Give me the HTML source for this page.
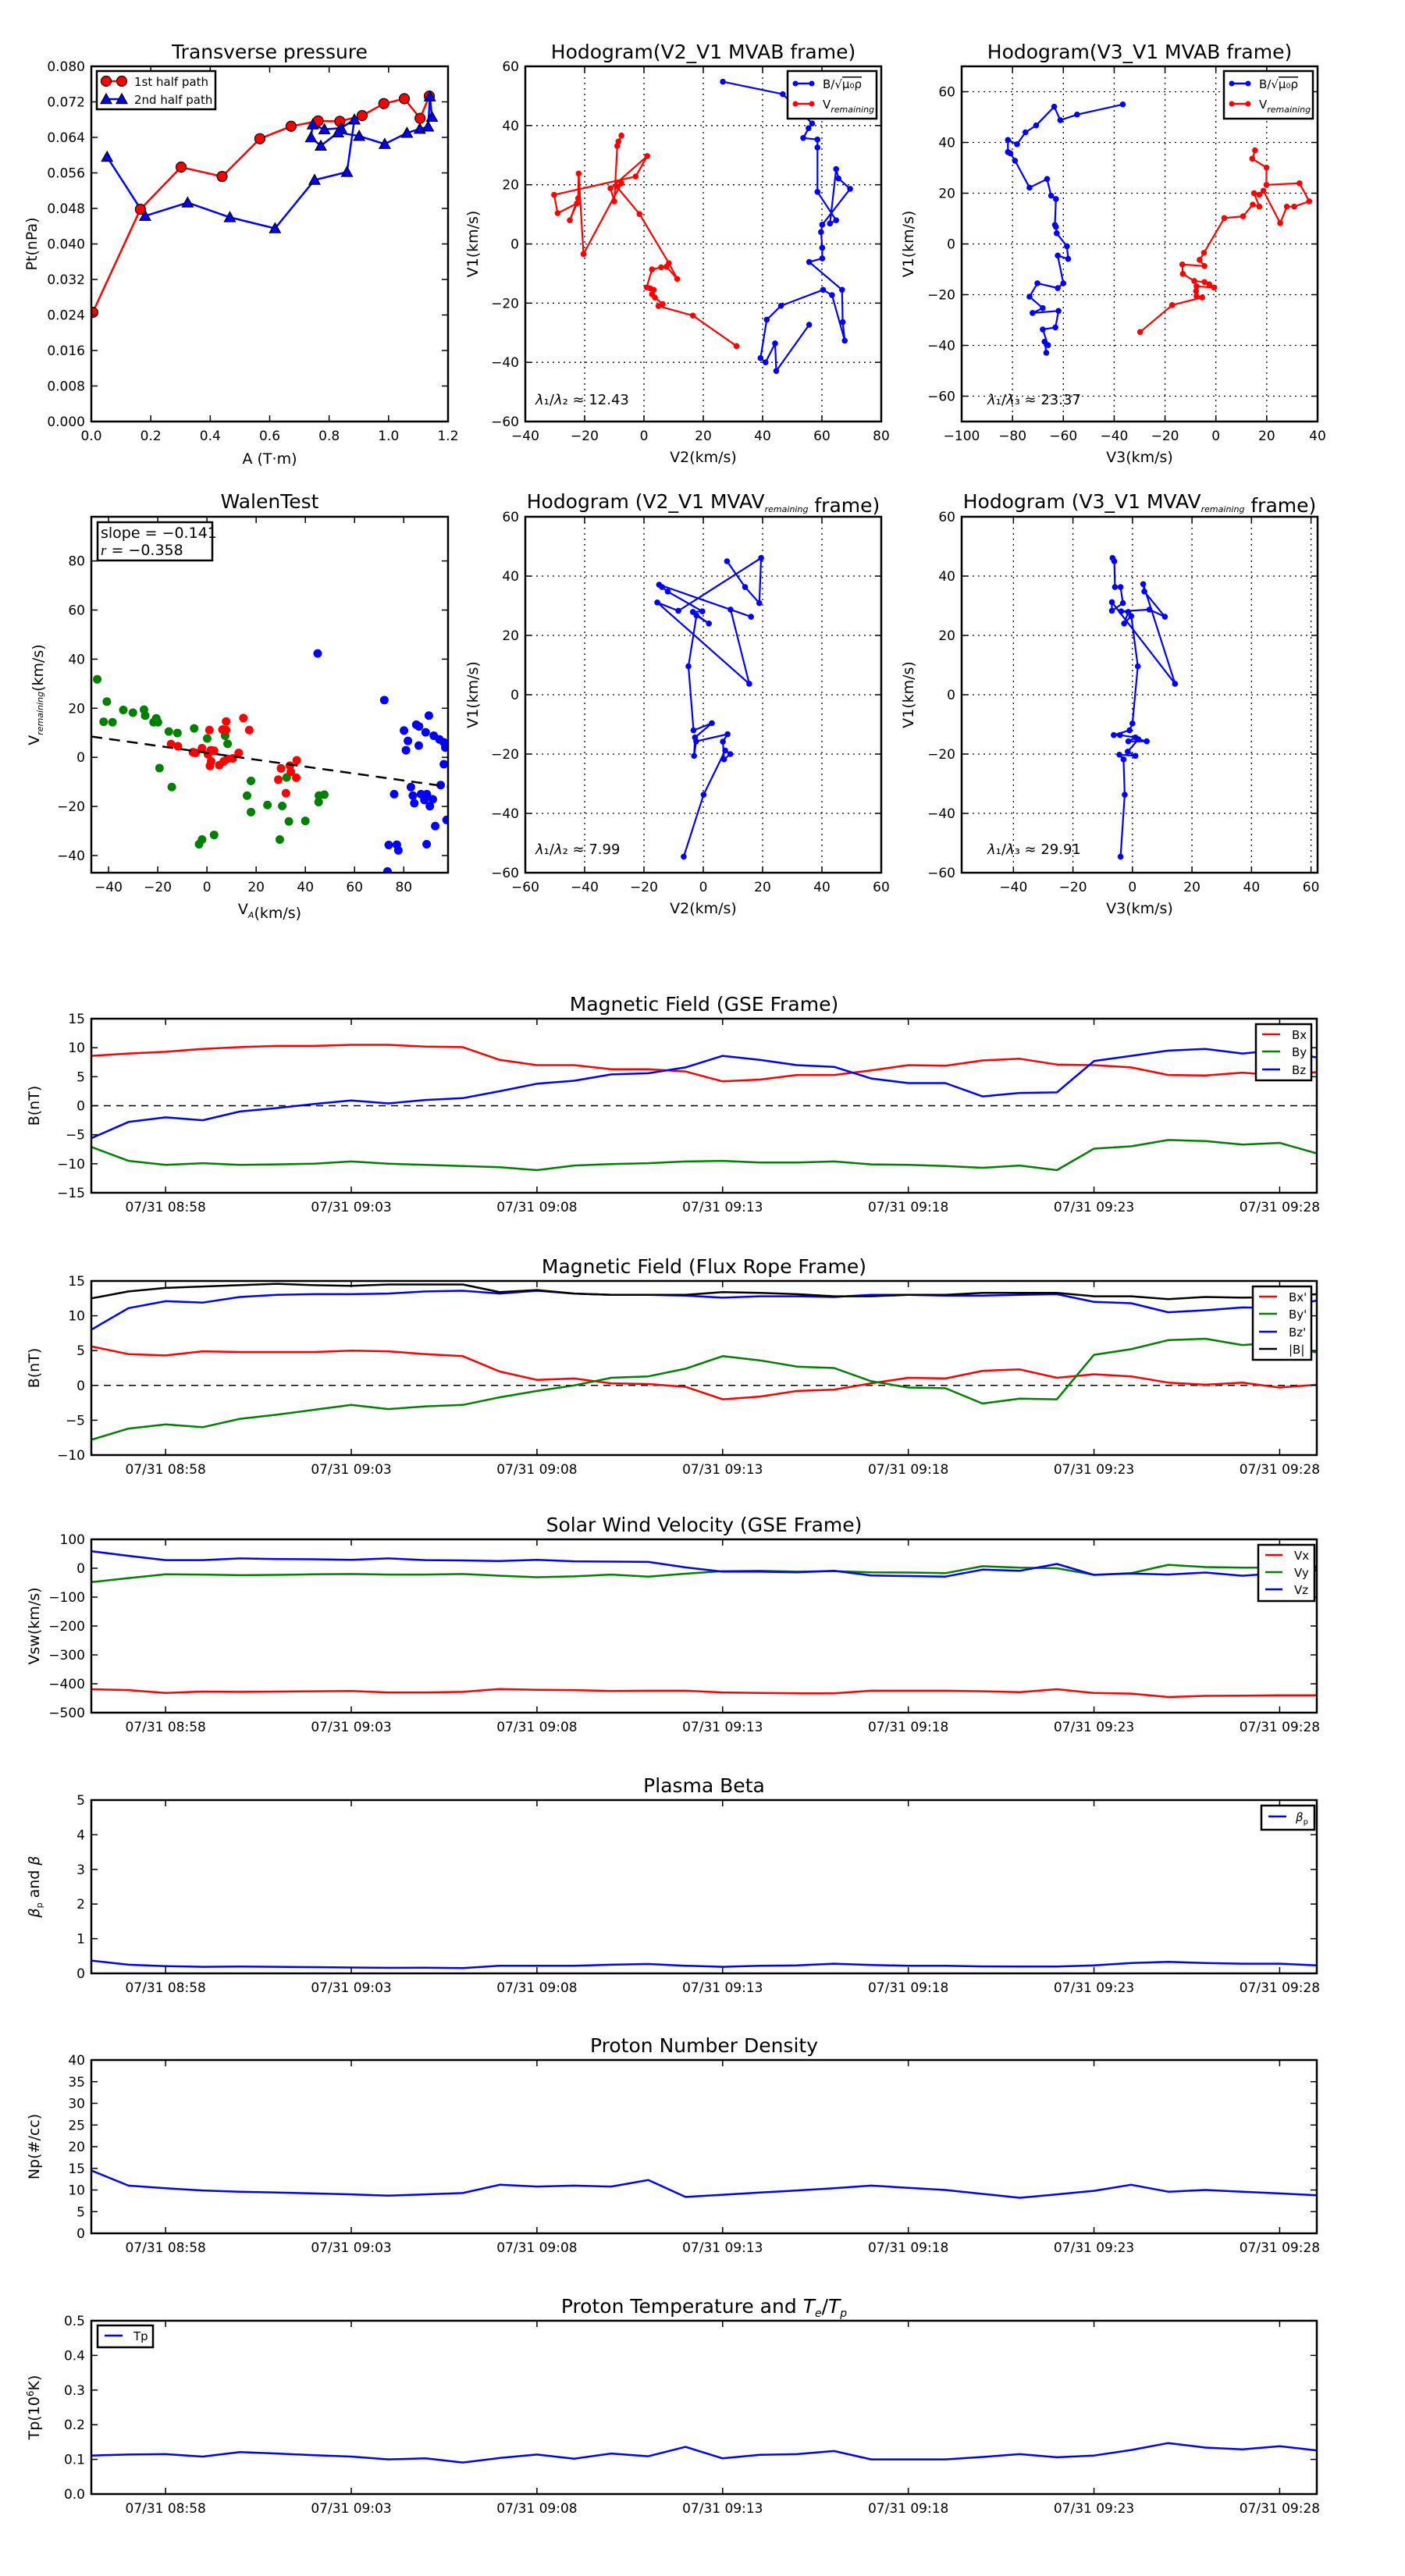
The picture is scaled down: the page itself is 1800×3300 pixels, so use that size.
<!DOCTYPE html>
<html><head><meta charset="utf-8"><title>Flux rope analysis</title>
<style>body{margin:0;background:#fff}svg{display:block}text{font-family:"DejaVu Sans","Liberation Sans",sans-serif;fill:#000}</style>
</head><body>
<svg id="fig" width="1800" height="3300" viewBox="0 0 1800 3300"></svg>
<script>
// ---------- Transverse pressure ----------
const pt1A=[0.005,0.165,0.302,0.44,0.567,0.672,0.763,0.836,0.911,0.984,1.053,1.106,1.137];
const pt1P=[0.0246,0.0478,0.0573,0.0552,0.0637,0.0665,0.0677,0.0676,0.0689,0.0716,0.0727,0.0683,0.0733];
const pt2A=[0.053,0.181,0.324,0.466,0.618,0.751,0.860,0.885,0.840,0.784,0.745,0.739,0.772,0.830,0.901,0.987,1.062,1.105,1.133,1.139,1.146];
const pt2P=[0.0596,0.0463,0.0493,0.0460,0.0435,0.0544,0.0562,0.0680,0.0661,0.0658,0.0669,0.0640,0.0621,0.0651,0.0643,0.0625,0.0650,0.0659,0.0664,0.0732,0.0686];
// ---------- Hodogram V2_V1 MVAB ----------
const h1bV2=[26.6,46.8,56.7,55.5,53.7,58.5,58.5,58.5,64.8,62.7,64.8,65.6,69.5,60.1,59.7,60.1,60.1,55.7,66.8,67.0,67.7,63.4,60.4,46.2,41.4,39.3,41.0,44.2,44.6,55.7];
const h1bV1=[54.8,50.6,40.7,39.1,35.8,35.3,32.6,17.6,8.0,6.9,25.3,22.1,18.6,6.5,4.0,-1.3,-4.9,-6.1,-15.5,-26.4,-32.7,-17.3,-15.5,-20.9,-25.6,-38.6,-40.0,-33.6,-42.9,-27.3];
const h1rV2=[31.2,16.5,4.9,6.3,3.7,2.7,3.3,2.1,0.9,2.7,5.8,7.6,11.2,8.4,-1.5,-9.2,-7.6,-20.4,-22.0,-22.2,-25.0,-22.6,-29.1,-30.3,-2.8,1.1,-11.3,-10.0,-9.0,-8.6,-7.6];
const h1rV1=[-34.5,-24.2,-21.0,-20.3,-18.1,-17.0,-15.5,-15.0,-14.7,-8.6,-7.9,-7.7,-11.8,-6.5,10.1,19.4,20.5,-3.4,23.8,15.4,8.0,13.7,10.4,16.6,22.8,29.7,18.8,14.4,33.1,34.6,36.6];
// ---------- Hodogram V3_V1 MVAB ----------
const h2bV3=[-36.6,-54.6,-61.2,-63.6,-70.7,-74.9,-78.2,-81.8,-81.8,-80.8,-79.0,-73.3,-66.4,-64.8,-62.9,-63.3,-62.9,-62.6,-58.6,-58.1,-62.2,-60.0,-62.2,-70.2,-73.3,-68.1,-72.1,-61.9,-63.1,-68.1,-66.0,-67.4,-66.7];
const h2bV1=[55.0,51.0,48.8,54.1,46.7,44.0,39.3,41.0,36.2,35.7,32.8,22.2,25.6,19.0,17.7,7.5,6.7,4.2,-0.9,-5.9,-4.6,-15.5,-17.4,-15.5,-20.8,-25.3,-27.2,-26.4,-32.9,-33.7,-39.9,-38.5,-42.9];
const h2rV3=[-29.8,-17.2,-5.4,-7.6,-7.8,-7.6,-0.7,-2.6,-4.5,-8.5,-13.0,-13.2,-4.5,-6.4,-4.7,3.3,10.7,14.5,17.1,15.0,17.1,18.7,25.3,27.9,30.8,36.7,32.9,19.9,19.9,14.3,15.4];
const h2rV1=[-34.7,-24.1,-21.1,-20.6,-18.6,-16.7,-17.2,-15.9,-15.0,-14.6,-11.8,-8.1,-8.7,-6.3,-3.5,10.2,10.9,15.5,14.7,20.0,19.4,21.0,8.2,14.7,14.7,16.8,23.9,23.3,30.1,33.6,36.9];
// ---------- Walen test ----------
const wgVA=[-44.6,-40.7,-42,-38.4,-34,-30.1,-25.6,-25.1,-21.7,-20.6,-19.9,-19.3,-15.5,-12,-14.3,-5.2,0.1,7.4,8.4,32.4,17.9,16.3,17.9,24.6,30.6,33.3,40,45.5,47.7,45.4,29.6,2.9,-2,-3.2];
const wgVR=[31.8,22.7,14.5,14.3,19.3,18.2,19.4,17,14.3,15.9,14.3,-4.4,10.5,9.9,-12.1,11.8,7.7,8.8,5.5,-8.2,-9.6,-15.6,-22.3,-19.4,-19.8,-26.1,-25.9,-15.6,-15.2,-18.2,-33.5,-31.6,-33.5,-35.4];
const wrVA=[-14.6,-11.8,-5.7,-4.6,-2,1,7.8,6.3,7.8,14.8,17.2,0.4,1.6,2.9,1.2,1.7,5,6.8,8.3,10.5,12.9,30.1,29,33.7,34.1,36.5,36.3,32.1];
const wrVR=[5.4,4.5,2.1,1.8,3.7,11.1,14.6,11.3,11.1,16,11.1,1.2,2.9,2.7,-3.5,-1.6,-3.2,-1.7,-0.6,-0.4,1.8,-4.5,-9.1,-3.4,-5.9,-1.2,-8.3,-14.6];
const wbVA=[45,72.1,80.1,81.7,80.9,85.1,86.2,86.1,88.9,90.2,92.2,94.5,96.3,96.9,96.3,95,82.9,83.7,84.3,87,89.4,88.4,91.8,90.6,76.1,92.8,97.4,73.9,77.2,77.8,89.3,73.4];
const wbVR=[42.3,23.3,10.9,6.7,2.9,13.3,12.6,4.8,10.2,17,8.8,7.3,6.1,4,-2.8,-11.3,-12.1,-15.6,-18.7,-15,-15,-17.4,-17.1,-19.9,-15,-28,-25.5,-35.7,-35.6,-37.9,-35.4,-46.5];
const walenSlope=-0.141, walenIntercept=1.85;
// ---------- Hodogram MVAV ----------
const h3V2=[-6.6,0.1,7.4,9.1,7.0,6.6,8.2,-2.4,-3.1,-2.8,2.9,-3.3,-5.0,-2.3,1.9,-3.5,-0.3,-12.0,-13.9,-14.9,16.1,9.2,15.5,-15.5,-8.4,19.5,18.9,14.1,8.0];
const h3V1=[-54.6,-33.7,-18.8,-20.0,-21.8,-15.8,-13.3,-15.7,-20.6,-14.4,-9.6,-12.0,9.6,26.7,24.0,27.9,28.1,34.8,36.3,37.1,26.3,28.7,3.7,31.1,28.3,46.1,30.9,36.3,45.0];
const h4V3=[-4.0,-2.6,-3.0,-4.4,1.0,-1.6,2.0,4.8,-1.4,1.0,-4.2,-6.3,-1.0,0.0,1.8,-0.4,-2.8,-1.4,-3.8,5.7,10.9,4.0,3.6,14.3,-6.9,-6.9,-3.2,-4.0,-5.9,-6.1,-6.7];
const h4V1=[-54.6,-33.7,-21.8,-20.2,-20.6,-19.2,-15.0,-15.7,-15.7,-14.4,-13.6,-13.6,-12.0,-9.7,9.6,26.5,24.0,27.9,28.1,28.7,26.3,34.8,37.3,3.7,31.2,28.3,30.9,36.3,36.3,45.0,46.1];
// ---------- time series (1-min samples 08:56 .. 09:29) ----------
const timeTickIdx=[2,7,12,17,22,27,32];
const timeTickLabels=['07/31 08:58','07/31 09:03','07/31 09:08','07/31 09:13','07/31 09:18','07/31 09:23','07/31 09:28'];
const bxGse=[8.6,9.0,9.3,9.8,10.1,10.3,10.3,10.5,10.5,10.2,10.1,7.9,7.0,7.0,6.3,6.3,5.9,4.2,4.5,5.3,5.3,6.1,7.0,6.9,7.8,8.1,7.1,7.0,6.6,5.3,5.2,5.7,5.2,5.8];
const byGse=[-7.1,-9.5,-10.2,-9.9,-10.2,-10.1,-10.0,-9.6,-10.0,-10.2,-10.4,-10.6,-11.1,-10.3,-10.05,-9.9,-9.6,-9.5,-9.8,-9.8,-9.6,-10.1,-10.2,-10.4,-10.7,-10.3,-11.1,-7.4,-7.0,-5.9,-6.1,-6.7,-6.4,-8.2];
const bzGse=[-5.6,-2.8,-2.0,-2.5,-1.0,-0.4,0.3,0.9,0.4,1.0,1.3,2.5,3.8,4.3,5.4,5.6,6.6,8.6,7.9,7.0,6.7,4.7,3.9,3.9,1.6,2.2,2.3,7.7,8.6,9.5,9.8,9.0,9.6,8.3];
const bxFr=[5.6,4.5,4.3,4.9,4.8,4.8,4.8,5.0,4.9,4.5,4.2,2.0,0.8,1.0,0.3,0.2,-0.2,-2.0,-1.6,-0.8,-0.6,0.3,1.1,1.0,2.1,2.3,1.1,1.6,1.3,0.4,0.1,0.4,-0.3,0.1];
const byFr=[-7.8,-6.2,-5.6,-6.0,-4.8,-4.2,-3.5,-2.8,-3.4,-3.0,-2.8,-1.7,-0.8,0.0,1.1,1.3,2.4,4.2,3.6,2.7,2.5,0.6,-0.3,-0.4,-2.6,-1.9,-2.0,4.4,5.2,6.5,6.7,5.8,6.2,4.7];
const bzFr=[8.0,11.1,12.1,11.9,12.7,13.0,13.1,13.1,13.2,13.5,13.6,13.2,13.6,13.2,13.0,13.0,12.9,12.6,12.8,12.8,12.7,13.0,13.0,12.9,12.9,13.0,13.1,12.0,11.8,10.5,10.8,11.2,11.1,12.2];
const bMag=[12.5,13.5,14.0,14.2,14.4,14.6,14.4,14.3,14.5,14.5,14.5,13.4,13.7,13.2,13.0,13.0,13.0,13.4,13.3,13.1,12.8,12.8,13.0,13.0,13.3,13.3,13.3,12.8,12.8,12.4,12.7,12.6,12.7,13.1];
const vx=[-419,-422,-432,-427,-428,-427,-426,-425,-430,-430,-428,-418,-421,-422,-425,-424,-424,-430,-432,-433,-433,-424,-424,-424,-426,-429,-419,-432,-434,-446,-442,-441,-440,-440];
const vy=[-48,-34,-21,-22,-24,-23,-21,-20,-22,-22,-20,-26,-31,-28,-22,-29,-19,-10,-9,-12,-10,-14,-15,-17,7,2,0,-23,-17,12,4,2,2,6];
const vz=[59,43,28,28,34,32,31,29,34,28,27,25,29,24,23,22,3,-12,-12,-14,-9,-25,-27,-29,-5,-9,15,-23,-18,-22,-15,-26,-17,-7];
const betaP=[0.37,0.25,0.21,0.19,0.195,0.19,0.18,0.17,0.16,0.165,0.15,0.22,0.22,0.22,0.25,0.27,0.22,0.19,0.22,0.23,0.28,0.24,0.22,0.22,0.2,0.195,0.195,0.23,0.3,0.33,0.3,0.28,0.28,0.23];
const np=[14.5,11.0,10.4,9.9,9.6,9.4,9.2,9.0,8.7,9.0,9.3,11.2,10.8,11.0,10.8,12.3,8.4,8.9,9.4,9.9,10.4,11.0,10.5,10.0,9.1,8.2,9.0,9.8,11.2,9.6,10.0,9.6,9.2,8.8];
const tp=[0.111,0.114,0.115,0.108,0.121,0.117,0.112,0.108,0.1,0.103,0.091,0.104,0.114,0.102,0.117,0.109,0.136,0.103,0.113,0.115,0.124,0.1,0.1,0.1,0.107,0.115,0.106,0.111,0.127,0.147,0.134,0.129,0.138,0.126];

const NS='http://www.w3.org/2000/svg';
const svg=document.getElementById('fig');
const MINUS='\u2212';
let clipN=0;
function mk(tag,attrs,parent){const e=document.createElementNS(NS,tag);for(const k in attrs)e.setAttribute(k,attrs[k]);(parent||svg).appendChild(e);return e;}
function fmt(v,d){const s=v.toFixed(d);return s.startsWith('-')?MINUS+s.slice(1):s;}
function range(a,b,s){const r=[];for(let v=a;v<=b+1e-9;v+=s)r.push(Math.round(v*1e6)/1e6);return r;}

function makeAxes(o){
  const g=mk('g',{});
  
  
  const sx=v=>o.x0+(v-o.xmin)/(o.xmax-o.xmin)*(o.x1-o.x0);
  const sy=v=>o.y1-(v-o.ymin)/(o.ymax-o.ymin)*(o.y1-o.y0);
  const id='clip'+(clipN++);
  const cp=mk('clipPath',{id:id},g);
  mk('rect',{x:o.x0,y:o.y0,width:o.x1-o.x0,height:o.y1-o.y0},cp);
  const under=mk('g',{},g);
  const plot=mk('g',{'clip-path':'url(#'+id+')'},g);
  
  
  const top=mk('g',{},g);
  const fs=o.fs||17;
  o.xticks.forEach((v,i)=>{
    const x=sx(v);
    if(o.grid){const gl=mk('line',{x1:x,x2:x,y1:o.y0,y2:o.y1,stroke:'#000','stroke-width':1.3,'stroke-dasharray':'2 5'},under);
      
      }
    mk('line',{x1:x,x2:x,y1:o.y1,y2:o.y1-8,stroke:'#000','stroke-width':1.5},top);
    mk('line',{x1:x,x2:x,y1:o.y0,y2:o.y0+8,stroke:'#000','stroke-width':1.5},top);
    const t=mk('text',{x:x,y:o.y1+(o.xlabOff||24),'font-size':fs,'text-anchor':'middle'},top);
    t.textContent=o.xlabels[i];
    
    
  });
  o.yticks.forEach((v,i)=>{
    const y=sy(v);
    if(o.grid){const gl=mk('line',{x1:o.x0,x2:o.x1,y1:y,y2:y,stroke:'#000','stroke-width':1.3,'stroke-dasharray':'2 5'},under);
      
      }
    mk('line',{x1:o.x0,x2:o.x0+8,y1:y,y2:y,stroke:'#000','stroke-width':1.5},top);
    mk('line',{x1:o.x1,x2:o.x1-8,y1:y,y2:y,stroke:'#000','stroke-width':1.5},top);
    const t=mk('text',{x:o.x0-8,y:y+6,'font-size':fs,'text-anchor':'end'},top);
    t.textContent=o.ylabels[i];
    
    
  });
  const fr=mk('rect',{x:o.x0,y:o.y0,width:o.x1-o.x0,height:o.y1-o.y0,fill:'none',stroke:'#000','stroke-width':2.5},top);
  
  
  const ti=mk('text',{x:(o.x0+o.x1)/2,y:o.titleY,'font-size':o.tfs||25,'text-anchor':'middle'},top);
  ti.innerHTML=o.title;
  
  
  if(o.xlabel){const t=mk('text',{x:(o.x0+o.x1)/2,y:o.xlabelY,'font-size':19,'text-anchor':'middle'},top);
    t.innerHTML=o.xlabel;
    
    }
  if(o.ylabel){const yc=(o.y0+o.y1)/2;const t=mk('text',{x:o.ylabelX,y:yc,'font-size':19,'text-anchor':'middle',transform:'rotate(-90 '+o.ylabelX+' '+yc+')'},top);
    t.innerHTML=o.ylabel;
    
    }
  return {sx,sy,plot,top};
}
function polyline(ax,xs,ys,color,w,name){
  const pts=xs.map((x,i)=>ax.sx(x).toFixed(1)+','+ax.sy(ys[i]).toFixed(1)).join(' ');
  const p=mk('polyline',{points:pts,fill:'none',stroke:color,'stroke-width':w||2.5,'stroke-linejoin':'round'},ax.plot);
  
  
  return p;
}
function dots(ax,xs,ys,color,r,name,stroke){
  const g=mk('g',{},ax.plot);
  
  
  xs.forEach((x,i)=>{const c=mk('circle',{cx:ax.sx(x),cy:ax.sy(ys[i]),r:r,fill:color,stroke:stroke||'none','stroke-width':1.2},g);
    
    });
}
function tris(ax,xs,ys,color,r,name){
  const g=mk('g',{},ax.plot);
  
  
  xs.forEach((x,i)=>{const cx=ax.sx(x),cy=ax.sy(ys[i]);
    const t=mk('polygon',{points:`${cx},${cy-r} ${cx-r},${cy+r*0.8} ${cx+r},${cy+r*0.8}`,fill:color,stroke:'#000','stroke-width':1.2},g);
    
    });
}
function legendBox(x,y,w,h,name){const r=mk('rect',{x:x,y:y,width:w,height:h,fill:'#fff',stroke:'#000','stroke-width':2.5});
  
  
  return r;}
function legendLine(x1,x2,y,color,label,tx,marker,name,fs){
  const g=mk('g',{});
  
  
  mk('line',{x1:x1,x2:x2,y1:y,y2:y,stroke:color,'stroke-width':2.5},g);
  if(marker==='o'){[x1,x2].forEach(x=>mk('circle',{cx:x,cy:y,r:6.5,fill:color,stroke:'#000','stroke-width':1.2},g));}
  if(marker==='^'){[x1,x2].forEach(x=>mk('polygon',{points:`${x},${y-7} ${x-7},${y+5.6} ${x+7},${y+5.6}`,fill:color,stroke:'#000','stroke-width':1.2},g));}
  if(marker==='.'){[x1,x2].forEach(x=>mk('circle',{cx:x,cy:y,r:3.5,fill:color},g));}
  const t=mk('text',{x:tx,y:y+6,'font-size':fs||16},g);
  t.innerHTML=label;
}
function annot(x,y,html,name,fs){const t=mk('text',{x:x,y:y,'font-size':fs||18});
  t.innerHTML=html;
  
  }

const sub=s=>`<tspan font-size="11" font-style="italic" dy="5">${s}</tspan><tspan dy="-5"></tspan>`;
const neg=a=>a.map(v=>fmt(v,0));

// ===== Panel 1 : Transverse pressure =====
{
 const yt=range(0,0.08,0.008),xt=range(0,1.2,0.2);
 const ax=makeAxes({name:'transverse-pressure-chart',x0:117,x1:574,y0:85,y1:540,xmin:0,xmax:1.2,ymin:0,ymax:0.08,
  xticks:xt,xlabels:xt.map(v=>v.toFixed(1)),yticks:yt,ylabels:yt.map(v=>v.toFixed(3)),titleY:75,title:'Transverse pressure',
  xlabel:'A (T·m)',xlabelY:594,ylabel:'Pt(nPa)',ylabelX:47});
 polyline(ax,pt1A,pt1P,'#f00',2.5,'first-half-path-line');
 polyline(ax,pt2A,pt2P,'#00f',2.5,'second-half-path-line');
 dots(ax,pt1A,pt1P,'#f00',6.5,'first-half-path-markers','#000');
 tris(ax,pt2A,pt2P,'#00f',7,'second-half-path-markers');
 legendBox(124,91,152,49,'pressure-legend');
 legendLine(136,156,104,'#f00','1st half path',172,'o','legend-entry-first-half',15);
 legendLine(136,156,127,'#00f','2nd half path',172,'^','legend-entry-second-half',15);
}
// ===== Panel 2 : Hodogram V2_V1 MVAB =====
{
 const xt=range(-40,80,20),yt=range(-60,60,20);
 const ax=makeAxes({name:'hodogram-v2-v1-mvab',x0:673,x1:1129,y0:85,y1:540,xmin:-40,xmax:80,ymin:-60,ymax:60,grid:true,
  xticks:xt,xlabels:neg(xt),yticks:yt,ylabels:neg(yt),titleY:75,title:'Hodogram(V2_V1 MVAB frame)',
  xlabel:'V2(km/s)',xlabelY:592,ylabel:'V1(km/s)',ylabelX:612});
 polyline(ax,h1bV2,h1bV1,'#00f',2.2,'b-alfven-path');
 dots(ax,h1bV2,h1bV1,'#00f',3.8,'b-alfven-points');
 polyline(ax,h1rV2,h1rV1,'#f00',2.2,'v-remaining-path');
 dots(ax,h1rV2,h1rV1,'#f00',3.8,'v-remaining-points');
 legendBox(1009,91,114,61,'hodogram-legend');
 legendLine(1019,1040,107,'#00f','B/√<tspan text-decoration="overline">μ₀ρ</tspan>',1054,'.','legend-entry-b',15);
 legendLine(1019,1040,133,'#f00','V'+sub('remaining'),1054,'.','legend-entry-v',15);
 annot(686,518,'<tspan font-style="italic">λ</tspan>₁/<tspan font-style="italic">λ</tspan>₂ ≈ 12.43','eigenvalue-ratio-label');
}
// ===== Panel 3 : Hodogram V3_V1 MVAB =====
{
 const xt=range(-100,40,20),yt=range(-60,60,20);
 const ax=makeAxes({name:'hodogram-v3-v1-mvab',x0:1232,x1:1688,y0:85,y1:540,xmin:-100,xmax:40,ymin:-70,ymax:70,grid:true,
  xticks:xt,xlabels:neg(xt),yticks:yt,ylabels:neg(yt),titleY:75,title:'Hodogram(V3_V1 MVAB frame)',
  xlabel:'V3(km/s)',xlabelY:592,ylabel:'V1(km/s)',ylabelX:1170});
 polyline(ax,h2bV3,h2bV1,'#00f',2.2,'b-alfven-path');
 dots(ax,h2bV3,h2bV1,'#00f',3.8,'b-alfven-points');
 polyline(ax,h2rV3,h2rV1,'#f00',2.2,'v-remaining-path');
 dots(ax,h2rV3,h2rV1,'#f00',3.8,'v-remaining-points');
 legendBox(1568,91,114,61,'hodogram-legend');
 legendLine(1578,1599,107,'#00f','B/√<tspan text-decoration="overline">μ₀ρ</tspan>',1613,'.','legend-entry-b',15);
 legendLine(1578,1599,133,'#f00','V'+sub('remaining'),1613,'.','legend-entry-v',15);
 annot(1265,518,'<tspan font-style="italic">λ</tspan>₁/<tspan font-style="italic">λ</tspan>₃ ≈ 23.37','eigenvalue-ratio-label');
}
// ===== Panel 4 : Walen test =====
{
 const xt=range(-40,80,20),yt=range(-40,80,20);
 const ax=makeAxes({name:'walen-test-chart',x0:117,x1:574,y0:662,y1:1118,xmin:-47,xmax:98,ymin:-47,ymax:98,
  xticks:xt,xlabels:neg(xt),yticks:yt,ylabels:neg(yt),titleY:651,title:'WalenTest',
  xlabel:'V'+sub('A')+'(km/s)',xlabelY:1171,ylabel:'V'+sub('remaining')+'(km/s)',ylabelX:50});
 dots(ax,wgVA,wgVR,'#008000',5.5,'green-scatter');
 dots(ax,wrVA,wrVR,'#f00',5.5,'red-scatter');
 dots(ax,wbVA,wbVR,'#00f',5.5,'blue-scatter');
 const fx=[-47,98];
 const fl=mk('line',{x1:ax.sx(fx[0]),y1:ax.sy(walenIntercept+walenSlope*fx[0]),x2:ax.sx(fx[1]),y2:ax.sy(walenIntercept+walenSlope*fx[1]),stroke:'#000','stroke-width':2.5,'stroke-dasharray':'14 9'},ax.plot);
 
 
 legendBox(125,669,147,49,'walen-stats-box');
 annot(129,689,'slope = '+MINUS+'0.141','slope-label',19);
 annot(129,711,'<tspan font-style="italic" font-family="Liberation Serif">r</tspan> = '+MINUS+'0.358','correlation-label',19);
}
// ===== Panel 5 : Hodogram V2_V1 MVAV =====
{
 const xt=range(-60,60,20),yt=range(-60,60,20);
 const ax=makeAxes({name:'hodogram-v2-v1-mvav',x0:673,x1:1129,y0:662,y1:1118,xmin:-60,xmax:60,ymin:-60,ymax:60,grid:true,
  xticks:xt,xlabels:neg(xt),yticks:yt,ylabels:neg(yt),titleY:651,title:'Hodogram (V2_V1 MVAV'+sub('remaining')+' frame)',
  xlabel:'V2(km/s)',xlabelY:1170,ylabel:'V1(km/s)',ylabelX:612});
 polyline(ax,h3V2,h3V1,'#00f',2.2,'velocity-path');
 dots(ax,h3V2,h3V1,'#00f',3.8,'velocity-points');
 annot(686,1094,'<tspan font-style="italic">λ</tspan>₁/<tspan font-style="italic">λ</tspan>₂ ≈ 7.99','eigenvalue-ratio-label');
}
// ===== Panel 6 : Hodogram V3_V1 MVAV =====
{
 const xt=range(-40,60,20),yt=range(-60,60,20);
 const ax=makeAxes({name:'hodogram-v3-v1-mvav',x0:1232,x1:1688,y0:662,y1:1118,xmin:-57.4,xmax:62.2,ymin:-60,ymax:60,grid:true,
  xticks:xt,xlabels:neg(xt),yticks:yt,ylabels:neg(yt),titleY:651,title:'Hodogram (V3_V1 MVAV'+sub('remaining')+' frame)',
  xlabel:'V3(km/s)',xlabelY:1170,ylabel:'V1(km/s)',ylabelX:1170});
 polyline(ax,h4V3,h4V1,'#00f',2.2,'velocity-path');
 dots(ax,h4V3,h4V1,'#00f',3.8,'velocity-points');
 annot(1265,1094,'<tspan font-style="italic">λ</tspan>₁/<tspan font-style="italic">λ</tspan>₃ ≈ 29.91','eigenvalue-ratio-label');
}
// ===== Time-series panels =====
const idx=bxGse.map((_,i)=>i);
function tsPanel(o){
  const ax=makeAxes({name:o.name,x0:117,x1:1687,y0:o.y0,y1:o.y1,xmin:0,xmax:33,ymin:o.ymin,ymax:o.ymax,
   xticks:timeTickIdx,xlabels:timeTickLabels,yticks:o.yt,ylabels:o.yl,titleY:o.y0-10,title:o.title,ylabel:o.ylabel,ylabelX:50});
  if(o.zero){const z=mk('line',{x1:117,x2:1687,y1:ax.sy(0),y2:ax.sy(0),stroke:'#000','stroke-width':1.5,'stroke-dasharray':'9 7'},ax.plot);
    
    }
  o.series.forEach(s=>polyline(ax,idx,s.d,s.c,2.5,s.n));
  return ax;
}
{
 const yt=range(-15,15,5);
 tsPanel({name:'magnetic-field-gse-chart',y0:1305,y1:1528,ymin:-15,ymax:15,yt:yt,yl:neg(yt),title:'Magnetic Field (GSE Frame)',ylabel:'B(nT)',zero:true,
  series:[{d:bxGse,c:'#f00',n:'bx-line'},{d:byGse,c:'#008000',n:'by-line'},{d:bzGse,c:'#00f',n:'bz-line'}]});
 legendBox(1609,1312,71,72,'gse-legend');
 legendLine(1617,1640,1325,'#f00','Bx',1655,null,'legend-entry-bx',15);
 legendLine(1617,1640,1347,'#008000','By',1655,null,'legend-entry-by',15);
 legendLine(1617,1640,1370,'#00f','Bz',1655,null,'legend-entry-bz',15);
}
{
 const yt=range(-10,15,5);
 tsPanel({name:'magnetic-field-flux-rope-chart',y0:1641,y1:1864,ymin:-10,ymax:15,yt:yt,yl:neg(yt),title:'Magnetic Field (Flux Rope Frame)',ylabel:'B(nT)',zero:true,
  series:[{d:bxFr,c:'#f00',n:'bx-prime-line'},{d:byFr,c:'#008000',n:'by-prime-line'},{d:bzFr,c:'#00f',n:'bz-prime-line'},{d:bMag,c:'#000',n:'b-magnitude-line'}]});
 legendBox(1605,1648,75,94,'flux-rope-legend');
 legendLine(1613,1636,1661,'#f00',"Bx'",1651,null,'legend-entry-bx-prime',15);
 legendLine(1613,1636,1683,'#008000',"By'",1651,null,'legend-entry-by-prime',15);
 legendLine(1613,1636,1706,'#00f',"Bz'",1651,null,'legend-entry-bz-prime',15);
 legendLine(1613,1636,1728,'#000','|B|',1651,null,'legend-entry-b-magnitude',15);
}
{
 const yt=range(-500,100,100);
 tsPanel({name:'solar-wind-velocity-chart',y0:1972,y1:2194,ymin:-500,ymax:100,yt:yt,yl:neg(yt),title:'Solar Wind Velocity (GSE Frame)',ylabel:'Vsw(km/s)',
  series:[{d:vx,c:'#f00',n:'vx-line'},{d:vy,c:'#008000',n:'vy-line'},{d:vz,c:'#00f',n:'vz-line'}]});
 legendBox(1612,1979,72,72,'velocity-legend');
 legendLine(1621,1643,1992,'#f00','Vx',1658,null,'legend-entry-vx',15);
 legendLine(1621,1643,2014,'#008000','Vy',1658,null,'legend-entry-vy',15);
 legendLine(1621,1643,2036,'#00f','Vz',1658,null,'legend-entry-vz',15);
}
{
 const yt=range(0,5,1);
 tsPanel({name:'plasma-beta-chart',y0:2306,y1:2528,ymin:0,ymax:5,yt:yt,yl:yt.map(v=>String(v)),title:'Plasma Beta',
  ylabel:'<tspan font-style="italic">β</tspan><tspan font-size="11" dy="4">p</tspan><tspan dy="-4"> and </tspan><tspan font-style="italic">β</tspan>',
  series:[{d:betaP,c:'#00f',n:'beta-p-line'}]});
 legendBox(1616,2313,68,31,'beta-legend');
 legendLine(1625,1648,2327,'#00f','<tspan font-style="italic">β</tspan><tspan font-size="10" dy="4">p</tspan>',1660,null,'legend-entry-beta-p',15);
}
{
 const yt=range(0,40,5);
 tsPanel({name:'proton-density-chart',y0:2639,y1:2861,ymin:0,ymax:40,yt:yt,yl:yt.map(v=>String(v)),title:'Proton Number Density',ylabel:'Np(#/cc)',
  series:[{d:np,c:'#00f',n:'np-line'}]});
}
{
 const yt=range(0,0.5,0.1);
 tsPanel({name:'proton-temperature-chart',y0:2973,y1:3195,ymin:0,ymax:0.5,yt:yt,yl:yt.map(v=>v.toFixed(1)),
  title:'Proton Temperature and <tspan font-style="italic">T</tspan><tspan font-size="14" font-style="italic" dy="5">e</tspan><tspan dy="-5">/</tspan><tspan font-style="italic">T</tspan><tspan font-size="14" font-style="italic" dy="5">p</tspan>',
  ylabel:'Tp(10<tspan font-size="12" dy="-7">6</tspan><tspan dy="7">K)</tspan>',
  series:[{d:tp,c:'#00f',n:'tp-line'}]});
 legendBox(125,2979,71,28,'temperature-legend');
 legendLine(134,157,2992,'#00f','Tp',171,null,'legend-entry-tp',15);
}
</script>
</body></html>
